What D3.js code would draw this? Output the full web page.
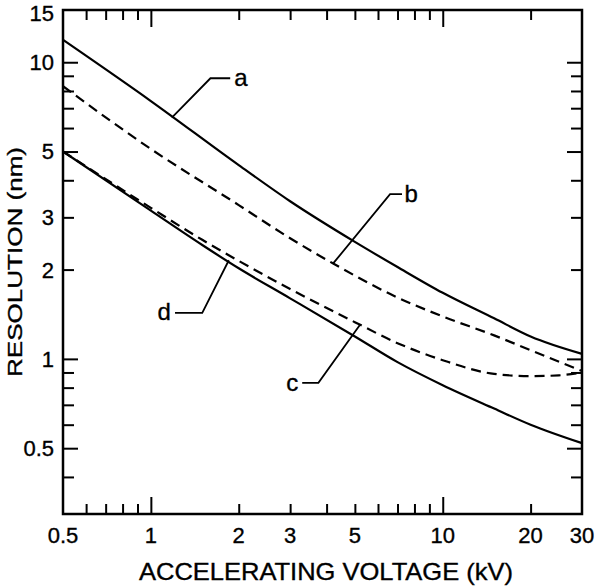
<!DOCTYPE html>
<html>
<head>
<meta charset="utf-8">
<script src="https://cdn.jsdelivr.net/npm/d3@7"></script>
<style>
  body { margin: 0; background: #fff; }
  text { font-family: 'Liberation Sans', Arial, Helvetica, sans-serif; fill: #000; stroke: #000; stroke-width: 0.35; }
</style>
</head>
<body>
<script>
let width = 600
let height = 586
let plotLeft = 63
let plotRight = 582
let plotTop = 10
let plotBottom = 514

// accelerating voltage (kV) / resolution (nm)
let kvA = [0.5, 1, 2, 3, 5, 7, 10, 15, 20, 30]
let resA = [11.9, 7.4, 4.5, 3.4, 2.48, 2.04, 1.67, 1.37, 1.19, 1.04]
let kvB = [0.5, 1, 2, 3, 4.2, 7, 10, 15, 20, 30]
let resB = [8.3, 5.1, 3.3, 2.55, 2.1, 1.61, 1.39, 1.2, 1.07, 0.91]
let kvC = [0.5, 1, 1.5, 2, 3, 5, 7, 10, 15, 20, 25, 30]
let resC = [5.0, 3.23, 2.52, 2.14, 1.72, 1.33, 1.13, 0.99, 0.89, 0.875, 0.88, 0.9]
let kvD = [0.5, 1, 1.5, 2, 3, 5, 7, 10, 15, 20, 30]
let resD = [5.0, 3.16, 2.42, 2.02, 1.6, 1.19, 0.975, 0.815, 0.68, 0.6, 0.52]

let xTicks = [0.6, 0.7, 0.8, 0.9, 1, 2, 3, 4, 5, 6, 7, 8, 9, 10, 20]
let xLabels = [0.5, 1, 2, 3, 5, 10, 20, 30]
let yTicks = [0.4, 0.5, 0.6, 0.7, 0.8, 0.9, 1, 2, 3, 4, 5, 6, 7, 8, 9, 10]
let yLabels = [0.5, 1, 2, 3, 5, 10, 15]

// leader lines for the curve labels, in data units [kV, nm]
let leaderNames = ['a', 'b', 'c', 'd']
let leaderPts = [
  [[1.18, 6.5], [1.6, 8.83], [1.87, 8.83]],
  [[4.2, 2.09], [6.6, 3.59], [7.25, 3.59]],
  [[5.2, 1.3], [3.75, 0.83], [3.3, 0.83]],
  [[1.85, 2.15], [1.5, 1.43], [1.21, 1.43]]
]
let labelAt = [[1.93, 8.83], [7.4, 3.59], [3.2, 0.83], [1.17, 1.43]]
let labelAnchor = ['start', 'start', 'end', 'end']

let scaleX = d3.scaleLog().domain([0.5, 30]).range([plotLeft, plotRight])
let scaleY = d3.scaleLog().domain([0.3, 15]).range([plotBottom, plotTop])

let svg = d3.select('body').append('svg')
  .attr('width', width)
  .attr('height', height)

function fmt (d) {
  return String(d)
}

// tick marks on all four sides, pointing inward
function xLen (d) { return (d === 1 || d === 10) ? 17 : 10 }
function yLen (d) { return [0.5, 1, 5, 10].includes(d) ? 15 : 11 }

let gx = svg.append('g')
  .attr('transform', 'translate(0,' + plotBottom + ')')
  .call(d3.axisBottom(scaleX).tickValues(xTicks).tickSize(-10).tickFormat(''))
gx.selectAll('.tick line').attr('y2', d => -xLen(d))

let gxt = svg.append('g')
  .attr('transform', 'translate(0,' + plotTop + ')')
  .call(d3.axisTop(scaleX).tickValues(xTicks).tickSize(-10).tickFormat(''))
gxt.selectAll('.tick line').attr('y2', d => xLen(d))

let gy = svg.append('g')
  .attr('transform', 'translate(' + plotLeft + ',0)')
  .call(d3.axisLeft(scaleY).tickValues(yTicks).tickSize(-11).tickFormat(''))
gy.selectAll('.tick line').attr('x2', d => yLen(d))

let gyr = svg.append('g')
  .attr('transform', 'translate(' + plotRight + ',0)')
  .call(d3.axisRight(scaleY).tickValues(yTicks).tickSize(-11).tickFormat(''))
gyr.selectAll('.tick line').attr('x2', d => -yLen(d))

svg.selectAll('.domain').remove()
svg.selectAll('.tick line').attr('stroke', '#000').attr('stroke-width', 2)

// tick labels
svg.append('g').selectAll('text')
  .data(xLabels)
  .enter()
  .append('text')
  .attr('x', d => scaleX(d))
  .attr('y', plotBottom + 29)
  .attr('text-anchor', 'middle')
  .attr('font-size', 22)
  .text(fmt)

svg.append('g').selectAll('text')
  .data(yLabels)
  .enter()
  .append('text')
  .attr('x', plotLeft - 9)
  .attr('y', d => Math.max(scaleY(d), 13))
  .attr('dy', '0.36em')
  .attr('text-anchor', 'end')
  .attr('font-size', 22)
  .text(fmt)

// frame
svg.append('rect')
  .attr('x', plotLeft)
  .attr('y', plotTop)
  .attr('width', plotRight - plotLeft)
  .attr('height', plotBottom - plotTop)
  .attr('fill', 'none')
  .attr('stroke', '#000')
  .attr('stroke-width', 2.5)

// curves
let line = d3.line()
  .x(d => scaleX(d[0]))
  .y(d => scaleY(d[1]))
  .curve(d3.curveMonotoneX)

let curves = [
  { kv: kvA, res: resA, dash: null },
  { kv: kvB, res: resB, dash: '10,6' },
  { kv: kvC, res: resC, dash: '10,6' },
  { kv: kvD, res: resD, dash: null }
]

svg.append('g').selectAll('path')
  .data(curves)
  .enter()
  .append('path')
  .attr('d', c => line(d3.zip(c.kv, c.res)))
  .attr('fill', 'none')
  .attr('stroke', '#000')
  .attr('stroke-width', 2.2)
  .attr('stroke-dasharray', c => c.dash)

// leaders and curve names
let plain = d3.line().x(d => scaleX(d[0])).y(d => scaleY(d[1]))
svg.append('g').selectAll('path')
  .data(leaderPts)
  .enter()
  .append('path')
  .attr('d', d => plain(d))
  .attr('fill', 'none')
  .attr('stroke', '#000')
  .attr('stroke-width', 1.8)

svg.append('g').selectAll('text')
  .data(leaderNames)
  .enter()
  .append('text')
  .attr('x', (d, i) => scaleX(labelAt[i][0]))
  .attr('y', (d, i) => scaleY(labelAt[i][1]))
  .attr('dy', '0.32em')
  .attr('text-anchor', (d, i) => labelAnchor[i])
  .attr('font-size', 24)
  .text(d => d)

// axis titles
svg.append('text')
  .attr('x', 326)
  .attr('y', 580)
  .attr('text-anchor', 'middle')
  .attr('font-size', 24)
  .attr('textLength', 374)
  .attr('lengthAdjust', 'spacingAndGlyphs')
  .text('ACCELERATING VOLTAGE (kV)')

svg.append('text')
  .attr('transform', 'translate(22,262) rotate(-90)')
  .attr('text-anchor', 'middle')
  .attr('font-size', 20)
  .attr('textLength', 230)
  .attr('lengthAdjust', 'spacingAndGlyphs')
  .text('RESOLUTION (nm)')
</script>
</body>
</html>
